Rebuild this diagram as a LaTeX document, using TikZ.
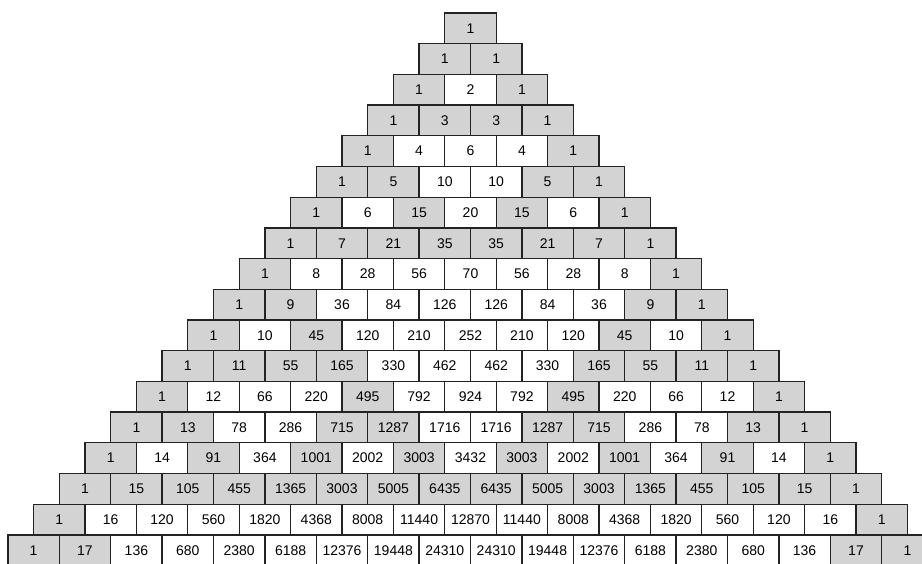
\documentclass[tikz,border=0pt]{standalone}
\usepackage{fontspec}
\setmainfont{Liberation Sans}
\usepackage{tikz}
\definecolor{cellGray}{RGB}{211,211,211}
\definecolor{cellLine}{RGB}{35,35,35}
\tikzset{
  cell/.style = {draw=cellLine, line width=1.3pt, minimum width=51.4pt,
                 minimum height=30.7pt, inner sep=0pt,
                 font=\fontsize{14}{16}\selectfont}
}

\begin{document}
\begin{tikzpicture}[x=1pt,y=1pt]
    \useasboundingbox (0,0) rectangle (922,-563);
    \clip (0,0) rectangle (922,-563);
    % row n, entry k: odd entries are shaded
    \foreach \n in {0,...,17}{
        \gdef\val{1}
        \foreach \k in {0,...,\n}{
            \ifnum\k>0 \xdef\val{\the\numexpr\val*(\n-\k+1)/\k\relax}\fi
            \ifodd\val \def\cellfill{cellGray}\else \def\cellfill{white}\fi
            \node[cell, fill=\cellfill] (c-\n-\k)
                at ({470.5+(\k-\n/2)*51.4}, {-28.35-\n*30.7}) {\val};
        }
    }
\end{tikzpicture}
\end{document}
